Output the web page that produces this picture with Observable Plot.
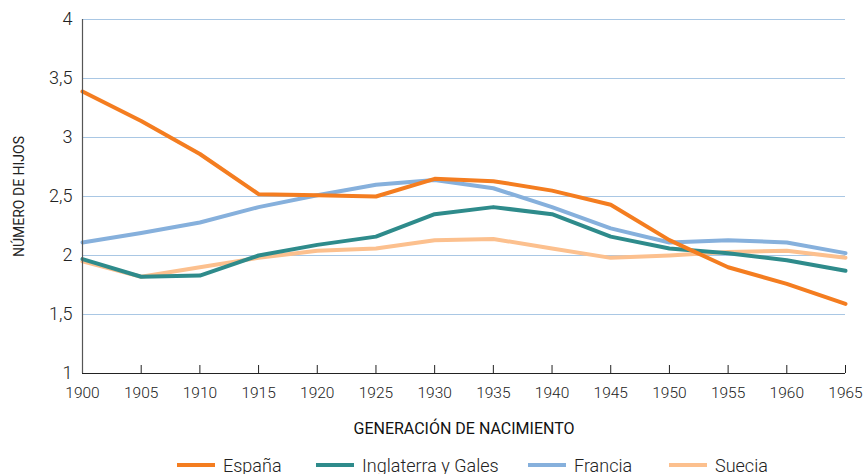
<!DOCTYPE html>
<html>
<head>
<meta charset="utf-8">
<script src="https://cdn.jsdelivr.net/npm/d3@7"></script>
<script src="https://cdn.jsdelivr.net/npm/@observablehq/plot@0.6"></script>
<style>
  body { margin: 0; background: #fff; font-family: Roboto, "Liberation Sans", Arial, sans-serif; font-weight: 300; }
  #legend { display: flex; height: 26px; align-items: center; position: relative; font-size: 18px; color: #222; }
  .item { position: absolute; display: flex; align-items: center; }
  .sw { width: 38px; height: 4px; margin-right: 8px; }
</style>
</head>
<body>
<div id="chart"></div>
<div id="legend"></div>
<script>
const years = [1900, 1905, 1910, 1915, 1920, 1925, 1930, 1935, 1940, 1945, 1950, 1955, 1960, 1965];
const espana = [3.39, 3.14, 2.86, 2.52, 2.51, 2.50, 2.65, 2.63, 2.55, 2.43, 2.13, 1.90, 1.76, 1.59];
const inglaterra = [1.97, 1.82, 1.83, 2.00, 2.09, 2.16, 2.35, 2.41, 2.35, 2.16, 2.06, 2.02, 1.96, 1.87];
const francia = [2.11, 2.19, 2.28, 2.41, 2.51, 2.60, 2.64, 2.57, 2.41, 2.23, 2.11, 2.13, 2.11, 2.02];
const suecia = [1.95, 1.82, 1.90, 1.98, 2.04, 2.06, 2.13, 2.14, 2.06, 1.98, 2.00, 2.03, 2.04, 1.98];
const seriesNames = ["España", "Inglaterra y Gales", "Francia", "Suecia"];
const seriesColors = ["#f47d20", "#2e8b8b", "#86b0dc", "#fcc08e"];
const yTicks = [1, 1.5, 2, 2.5, 3, 3.5, 4];
const gridTicks = [1.5, 2, 2.5, 3, 3.5, 4];

const seriesValues = [espana, inglaterra, francia, suecia];
const rows = [];
seriesNames.forEach((name, i) => years.forEach((yr, j) => rows.push({serie: name, year: yr, value: seriesValues[i][j]})));
const drawOrder = ["Suecia", "Francia", "Inglaterra y Gales", "España"];

const fmt = d => String(d).replace(".", ",");

const chart = Plot.plot({
  width: 865,
  height: 452,
  marginLeft: 82,
  marginRight: 20,
  marginTop: 19,
  marginBottom: 79,
  style: { fontFamily: "Roboto, Liberation Sans, Arial, sans-serif", fontSize: "15px", color: "#222", background: "#fff" },
  x: { domain: [1900, 1965] },
  y: { domain: [1, 4] },
  color: { domain: seriesNames, range: seriesColors },
  marks: [
    Plot.ruleY(gridTicks, { stroke: "#a9c7e4", strokeWidth: 1.2 }),
    Plot.axisY(yTicks, { tickSize: 0, tickPadding: 10, tickFormat: fmt, fill: "#222", fontSize: 18, fontWeight: 300, label: null }),
    Plot.axisY({ ticks: [], tickSize: 0, label: "NÚMERO DE HIJOS", labelAnchor: "center", labelOffset: 68, labelArrow: "none", fontSize: 14, fontWeight: 400, fill: "#222" }),
    Plot.axisX(years, { tickSize: -8, tickPadding: 21, tickFormat: d => String(d), stroke: "#222", fill: "#222", fontSize: 15.5, fontWeight: 300, label: null }),
    Plot.axisX({ ticks: [], tickSize: 0, label: "GENERACIÓN DE NACIMIENTO", labelAnchor: "center", labelOffset: 60, labelArrow: "none", fontSize: 16, fontWeight: 400, fill: "#111" }),
    drawOrder.map(s => Plot.line(rows.filter(r => r.serie === s), { x: "year", y: "value", stroke: "serie", strokeWidth: 4, strokeLinejoin: "round" })),
    Plot.ruleX([1900], { stroke: "#555", strokeWidth: 1.2 }),
    Plot.ruleY([1], { stroke: "#222", strokeWidth: 1.2 })
  ]
});
document.getElementById("chart").appendChild(chart);

const legend = document.getElementById("legend");
const lx = [177, 316, 528, 669];
seriesNames.forEach((n, i) => {
  const it = document.createElement("div");
  it.className = "item";
  it.style.left = lx[i] + "px";
  it.innerHTML = `<span class="sw" style="background:${seriesColors[i]}"></span><span>${n}</span>`;
  legend.appendChild(it);
});
</script>
</body>
</html>
